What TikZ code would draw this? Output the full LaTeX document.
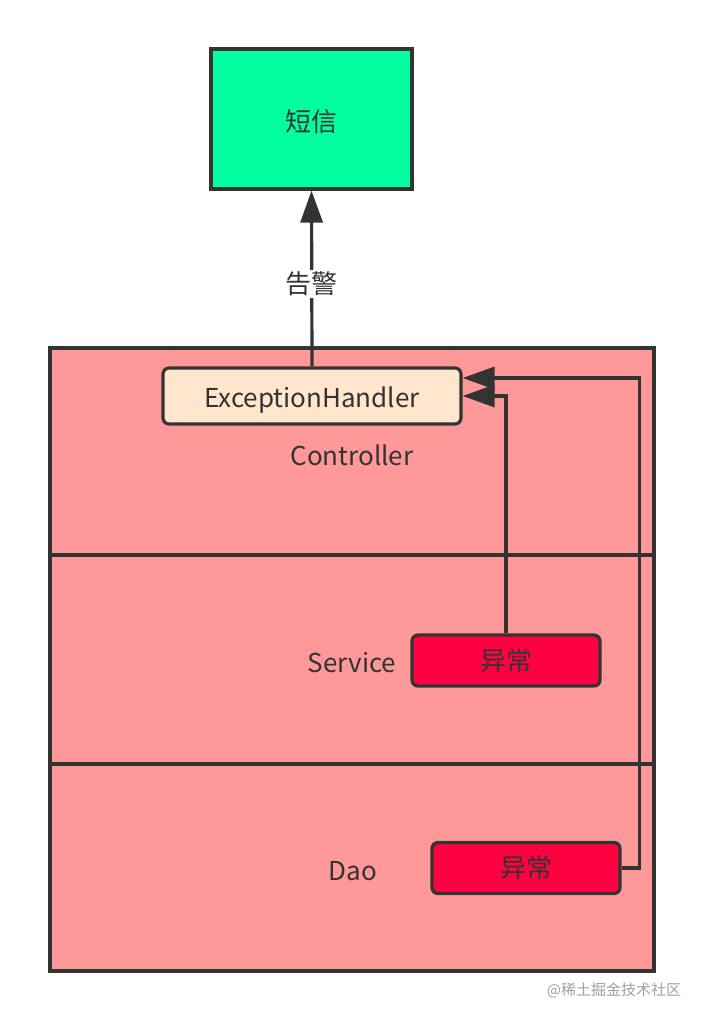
\documentclass[tikz,border=0pt]{standalone}
\usepackage{fontspec}
\setmainfont{Noto Sans CJK SC}
\usetikzlibrary{arrows.meta, positioning, calc}
\definecolor{LineGray}{RGB}{51,51,51}
\definecolor{LayerPink}{RGB}{255,153,153}
\definecolor{SmsGreen}{RGB}{0,255,159}
\definecolor{HandlerCream}{RGB}{255,230,204}
\definecolor{ErrRed}{RGB}{255,0,64}
\definecolor{MarkGray}{RGB}{160,160,160}

\tikzset{
  layer/.style={draw=LineGray, fill=LayerPink, line width=3.2pt},
  smsbox/.style={draw=LineGray, fill=SmsGreen, line width=3.2pt,
    minimum width=201pt, minimum height=140pt, inner sep=0pt},
  handlerbox/.style={draw=LineGray, fill=HandlerCream, line width=3.2pt,
    rounded corners=6pt, minimum width=298pt, minimum height=56pt, inner sep=0pt},
  errbox/.style={draw=LineGray, fill=ErrRed, line width=3.2pt,
    rounded corners=6pt, minimum width=188pt, minimum height=51pt, inner sep=0pt},
  layername/.style={text=LineGray, inner sep=0pt},
  flow/.style={draw=LineGray, line width=3.2pt, -{Triangle[length=32pt, width=22pt]}},
  txt/.style={font=\fontsize{26}{30}\selectfont}
}

\begin{document}
\begin{tikzpicture}[x=1pt, y=-1pt, txt]
  \useasboundingbox (0,0) rectangle (704,1022);

  % layers
  \path[layer] (50,348) rectangle (654,555);
  \path[layer] (50,555) rectangle (654,764);
  \path[layer] (50,764) rectangle (654,971);

  \node[layername] (ctrltxt) at (352,455) {Controller};
  \node[layername] (svctxt) at (352,663) {Service};
  \node[layername] (daotxt) at (353,871) {Dao};

  % boxes
  \node[smsbox, text=LineGray] (sms) at (311.5,119) {\raisebox{-13pt}[0pt][0pt]{短信}};
  \node[handlerbox, text=LineGray] (handler) at (312,396) {\raisebox{-11pt}[0pt][0pt]{ExceptionHandler}};
  \node[errbox, text=LineGray] (err1) at (506,660.5) {异常};
  \node[errbox, text=LineGray] (err2) at (526,868) {异常};

  % arrows
  \draw[flow] (handler.north) -- (sms.south)
        node[pos=0.47, fill=white, text=LineGray, inner sep=2pt] (alarm) {告警};
  \draw[flow] (err1.north) |- (handler.east);
  \draw[flow] (err2.east) -- ++(18,0) |- ([yshift=18pt]handler.east);

  \node[text=MarkGray, font=\fontsize{15}{18}\selectfont] (mark) at (614,990) {@稀土掘金技术社区};
\end{tikzpicture}
\end{document}
